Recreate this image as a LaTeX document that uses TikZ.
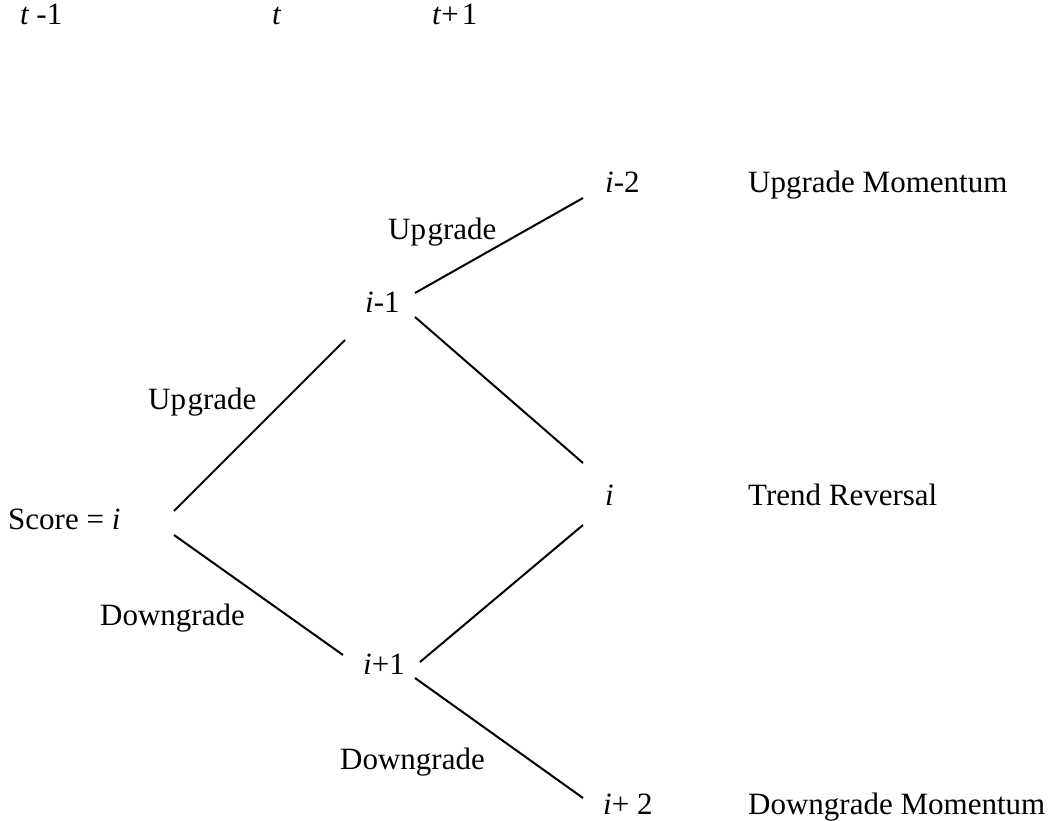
\documentclass[tikz,border=0pt]{standalone}
\usepackage{fontspec}
\setmainfont{Liberation Serif}
\begin{document}
\begin{tikzpicture}[x=1pt,y=-1pt,
  lbl/.style={anchor=base west,inner sep=0pt,font=\fontsize{31}{37}\selectfont},
  branch/.style={line width=2pt}]
\useasboundingbox (0,0) rectangle (1052,821);

% time axis
\node[lbl] (tm) at (20,25) {\textit{t}\kern7pt-1};
\node[lbl] (t0) at (272,25) {\textit{t}};
\node[lbl] (tp) at (432,25) {\textit{t}+\kern3pt1};

% tree states
\node[lbl] (score) at (8,529) {Score = \textit{i}};
\node[lbl] (im1) at (365,312) {\textit{i}-1};
\node[lbl] (ip1) at (363,674) {\textit{i}+1};
\node[lbl] (im2) at (605,193) {\textit{i}-2};
\node[lbl] (i0) at (605,505) {\textit{i}};
\node[lbl] (ip2) at (603,814) {\textit{i}+ 2};

% outcomes
\node[lbl] (um) at (748,193) {Upgrade Momentum};
\node[lbl] (tr) at (748,505) {Trend Reversal};
\node[lbl] (dm) at (748,814) {Downgrade Momentum};

% branch labels
\node[lbl] (up1) at (148,409) {Up\kern1.5pt grade};
\node[lbl] (dn1) at (100,625) {Downgrade};
\node[lbl] (up2) at (388,240) {Up\kern1.5pt grade};
\node[lbl] (dn2) at (340,769) {Downgrade};

% branch end points
\coordinate (score-u) at (174,511);
\coordinate (score-d) at (174,535);
\coordinate (im1-in) at (345,340);
\coordinate (im1-u) at (415,293);
\coordinate (im1-d) at (415,317);
\coordinate (ip1-in) at (343,655);
\coordinate (ip1-u) at (420,662);
\coordinate (ip1-d) at (415,678);
\coordinate (im2-in) at (583,198);
\coordinate (i0-a) at (583,463);
\coordinate (i0-b) at (583,525);
\coordinate (ip2-in) at (583,798);

% branches
\draw[branch] (score-u) -- (im1-in);
\draw[branch] (score-d) -- (ip1-in);
\draw[branch] (im1-u) -- (im2-in);
\draw[branch] (im1-d) -- (i0-a);
\draw[branch] (ip1-u) -- (i0-b);
\draw[branch] (ip1-d) -- (ip2-in);
\end{tikzpicture}
\end{document}
